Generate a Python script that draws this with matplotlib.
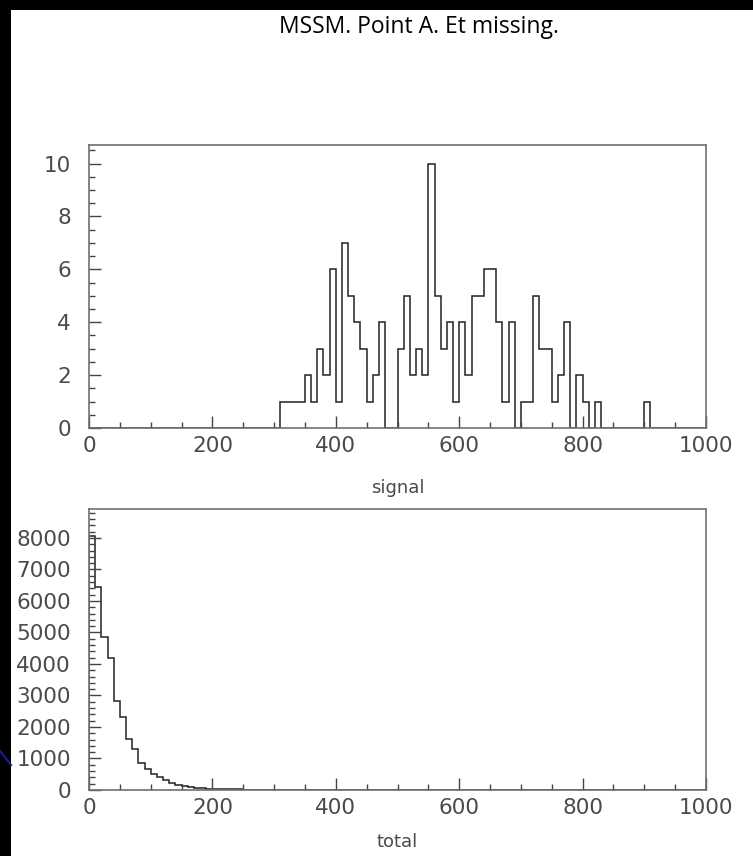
import numpy as np
import matplotlib
matplotlib.use("Agg")
import matplotlib.pyplot as plt
from matplotlib import font_manager
from matplotlib.patches import Rectangle
from matplotlib.lines import Line2D
from matplotlib.ticker import MultipleLocator

# 直方图分箱：0..1000，每箱宽 10
bin_edges = np.arange(0, 1001, 10)

# signal 每箱计数（按行 = 100 个单位）
signal_counts = (
    [0, 0, 0, 0, 0, 0, 0, 0, 0, 0] +
    [0, 0, 0, 0, 0, 0, 0, 0, 0, 0] +
    [0, 0, 0, 0, 0, 0, 0, 0, 0, 0] +
    [0, 1, 1, 1, 1, 2, 1, 3, 2, 6] +
    [1, 7, 5, 4, 3, 1, 2, 4, 0, 0] +
    [3, 5, 2, 3, 2, 10, 5, 3, 4, 1] +
    [4, 2, 5, 5, 6, 6, 4, 1, 4, 0] +
    [1, 1, 5, 3, 3, 1, 2, 4, 0, 2] +
    [1, 0, 1, 0, 0, 0, 0, 0, 0, 0] +
    [1, 0, 0, 0, 0, 0, 0, 0, 0, 0]
)

# total 每箱计数
total_counts = (
    [8050, 6450, 4870, 4180, 2820, 2320, 1630, 1290, 860, 680] +
    [520, 410, 310, 220, 170, 130, 95, 70, 55, 45] +
    [40, 30, 25, 20, 18, 15, 12, 10, 8, 6] +
    [5, 4, 3, 3, 2, 2, 2, 1, 1, 1] +
    [0] * 60
)

title = "MSSM. Point A. Et missing."
W, H = 753, 856

# 标题用窄字体（若没有则退回 Open Sans 并缩小）
installed = {f.name for f in font_manager.fontManager.ttflist}
if "Liberation Sans Narrow" in installed:
    title_family, title_size = ["Liberation Sans Narrow", "DejaVu Sans"], 19
else:
    title_family, title_size = ["Open Sans", "DejaVu Sans"], 16.5

fig = plt.figure(figsize=(W / 100, H / 100), dpi=100, facecolor="black")
# 白色页面区域（左、上留黑边）
fig.patches.append(Rectangle((11 / W, 0), 1, 1 - 10 / H, transform=fig.transFigure,
                             facecolor="white", edgecolor="none", zorder=-10))
fig.lines.append(Line2D([0, 11 / W], [1 - 751 / H, 1 - 765 / H], transform=fig.transFigure,
                        color="#1a1aa0", linewidth=1.5))

fig.text(419 / W, 1 - 33 / H, title, ha="center", va="baseline",
         fontsize=title_size, family=title_family, color="black")

spine_col = "#707070"
text_col = "#4a4a4a"


def style_axis(ax, ymax, ymajor, yminor, xlabel, labelpad):
    ax.set_xlim(0, 1000)
    ax.set_ylim(0, ymax)
    ax.xaxis.set_major_locator(MultipleLocator(200))
    ax.xaxis.set_minor_locator(MultipleLocator(50))
    ax.yaxis.set_major_locator(MultipleLocator(ymajor))
    ax.yaxis.set_minor_locator(MultipleLocator(yminor))
    ax.tick_params(which="both", direction="in", top=False, right=False,
                   color="#444444", width=1.0, labelcolor=text_col, labelsize=15.5)
    ax.tick_params(which="major", length=8.5)
    ax.tick_params(which="minor", length=4.3)
    ax.tick_params(axis="x", which="major", pad=5.5)
    ax.tick_params(axis="y", which="major", pad=13)
    for sp in ax.spines.values():
        sp.set_color(spine_col)
        sp.set_linewidth(1.2)
    ax.set_xlabel(xlabel, fontsize=13, color=text_col, labelpad=labelpad)


ax1 = fig.add_axes([89 / W, 1 - 428 / H, 617 / W, 283 / H])
ax1.stairs(signal_counts, bin_edges, color="#222222", linewidth=1.1)
style_axis(ax1, 10.7, 2, 0.5, "signal", 17)

ax2 = fig.add_axes([89 / W, 1 - 790 / H, 617 / W, 281 / H])
ax2.stairs(total_counts, bin_edges, color="#222222", linewidth=1.1)
style_axis(ax2, 8920, 1000, 200, "total", 11)

fig.savefig("out.png", dpi=100, facecolor=fig.get_facecolor())
